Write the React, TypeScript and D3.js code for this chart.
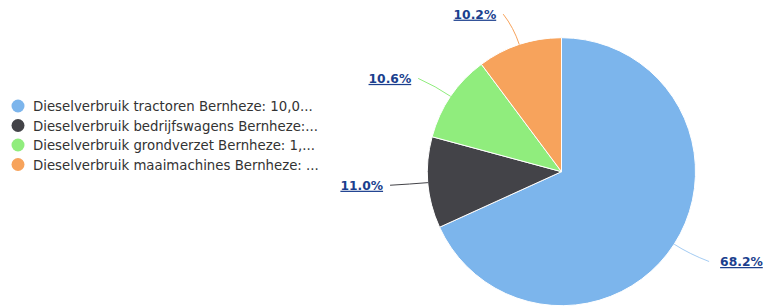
import React, { useEffect, useRef } from 'react';
import * as d3 from 'd3';

const names = [
    'Dieselverbruik tractoren Bernheze: 10,0...',
    'Dieselverbruik bedrijfswagens Bernheze:...',
    'Dieselverbruik grondverzet Bernheze: 1,...',
    'Dieselverbruik maaimachines Bernheze: ...'
];
const shares = [68.2, 11.0, 10.6, 10.2];
const colors = ['#7cb5ec', '#434348', '#90ed7d', '#f7a35c'];

export default function App() {
    const ref = useRef<SVGSVGElement>(null);

    useEffect(() => {
        if (!ref.current) return;
        const width = 764;
        const height = 306;
        const svg = d3.select(ref.current);
        svg.selectAll('*').remove();
        svg.attr('width', width).attr('height', height);

        const data = names.map((n, i) => ({ name: n, value: shares[i], color: colors[i] }));

        const cx = 561.5;
        const cy = 171.7;
        const r = 134;
        const font = '"DejaVu Sans", sans-serif';

        const pie = d3.pie<any>().sort(null).value(d => d.value);
        const arcs = pie(data);
        const arc = d3.arc<any>().innerRadius(0).outerRadius(r);

        const g = svg.append('g').attr('transform', `translate(${cx},${cy})`);

        g.selectAll('path.slice')
            .data(arcs)
            .enter()
            .append('path')
            .attr('class', 'slice')
            .attr('d', arc)
            .attr('fill', d => d.data.color)
            .attr('stroke', '#fff')
            .attr('stroke-width', 1);

        // Data labels with soft connectors
        const at = (a: number, rad: number) => [Math.sin(a) * rad, -Math.cos(a) * rad];
        arcs.forEach(d => {
            const mid = (d.startAngle + d.endAngle) / 2;
            const right = Math.sin(mid) >= 0;
            const t = at(mid, r);
            const b = at(mid, r + 18);
            const a = at(mid, r + 32);
            const end = [a[0] + (right ? 8 : -6), a[1]];
            g.append('path')
                .attr('d', `M${end[0]},${end[1]} Q${b[0]},${b[1]} ${t[0]},${t[1]}`)
                .attr('fill', 'none')
                .attr('stroke', d.data.color)
                .attr('stroke-width', 1)
                .attr('opacity', d.data.color === '#7cb5ec' ? 0.7 : 1);
            g.append('text')
                .attr('x', a[0] + (right ? 19 : -13))
                .attr('y', a[1] + 4.5)
                .attr('text-anchor', right ? 'start' : 'end')
                .attr('font-family', font)
                .attr('font-size', 12.3)
                .attr('font-weight', 'bold')
                .attr('fill', '#1b3f8e')
                .style('text-decoration', 'underline')
                .text(d.data.value.toFixed(1) + '%');
        });

        // Legend
        const legend = svg.append('g').attr('transform', 'translate(18,106)');
        const y = d3.scalePoint<string>().domain(names).range([0, 58.5]);
        const items = legend.selectAll('g')
            .data(data)
            .enter()
            .append('g')
            .attr('transform', d => `translate(0,${y(d.name)})`);
        items.append('circle')
            .attr('r', 6.5)
            .attr('fill', d => d.color);
        items.append('text')
            .attr('x', 15)
            .attr('y', 5)
            .attr('font-family', font)
            .attr('font-size', 13.3)
            .attr('fill', '#333333')
            .text(d => d.name);
    }, []);

    return <svg ref={ref} style={{ position: 'absolute', left: 0, top: 0 }} />;
}
